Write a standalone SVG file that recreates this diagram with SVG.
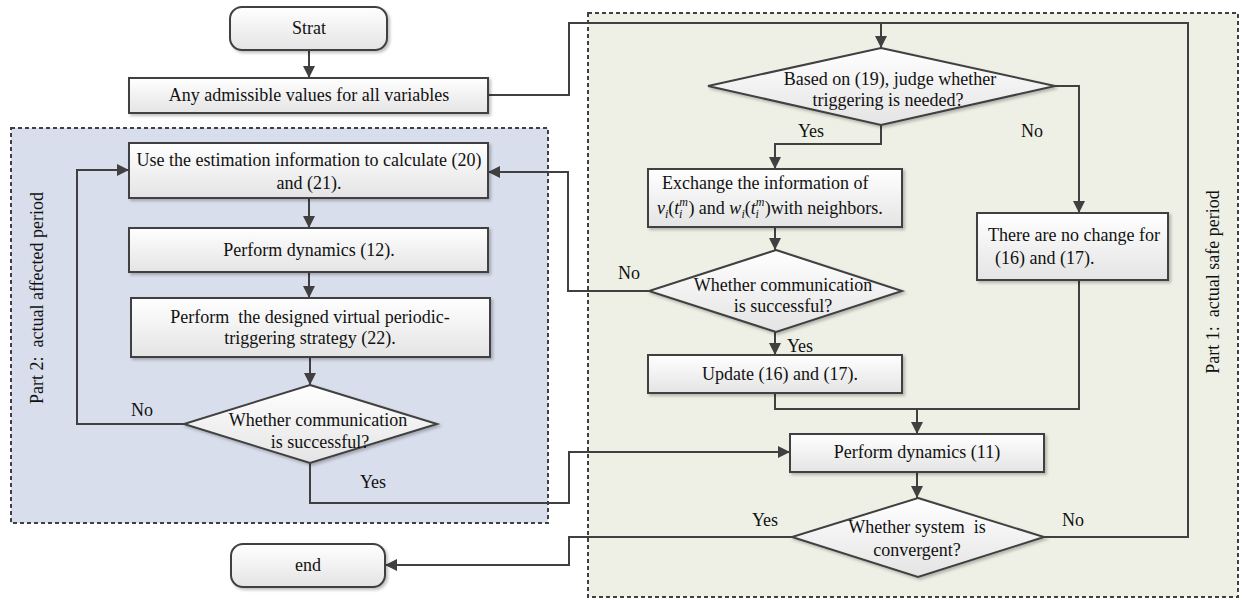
<svg xmlns="http://www.w3.org/2000/svg" width="1242" height="600" viewBox="0 0 1242 600">
<defs>
<linearGradient id="gBox" x1="0" y1="0" x2="0" y2="1">
<stop offset="0" stop-color="#ffffff"/>
<stop offset="1" stop-color="#e4e4e4"/>
</linearGradient>
<filter id="sh" x="-10%" y="-10%" width="130%" height="140%">
<feDropShadow dx="2" dy="2" stdDeviation="1.5" flood-color="#000" flood-opacity="0.25"/>
</filter>
<marker id="arr" viewBox="0 0 10 10" refX="10" refY="5" markerWidth="12" markerHeight="12" markerUnits="userSpaceOnUse" orient="auto">
<path d="M0,0 L10,5 L0,10 z" fill="#404040"/>
</marker>
</defs>
<style>
.box{fill:url(#gBox);stroke:#404040;stroke-width:2;filter:url(#sh)}
.dia{fill:url(#gBox);stroke:#404040;stroke-width:2;filter:url(#sh)}
.t{font-family:"Liberation Serif","Times New Roman",serif;font-size:18px;fill:#111}
.c{text-anchor:middle}
.s{font-size:12px;font-style:italic}
.i{font-style:italic}
.con{fill:none;stroke:#404040;stroke-width:2}
.arr{marker-end:url(#arr)}
.panel{stroke:#404040;stroke-width:2;stroke-dasharray:4 3}
</style>

<g id="panel-part2">
<rect class="panel" x="11" y="128" width="537" height="395" fill="#d9deec"/>
<text class="t c" transform="translate(43,298) rotate(-90)" xml:space="preserve">Part 2:  actual affected period</text>
</g>
<g id="panel-part1">
<rect class="panel" x="588" y="13" width="650" height="584" fill="#eef0e6"/>
<text class="t c" transform="translate(1219,282) rotate(-90)" xml:space="preserve">Part 1:  actual safe period</text>
</g>

<g id="connectors">
<path class="con arr" d="M309,50 V78"/>
<path class="con arr" d="M488,95 H569 V23 H881 V48"/>
<path class="con" d="M1044,537 H1188 V23 H881"/>
<path class="con arr" d="M881,125 V144 H775 V169"/>
<path class="con arr" d="M1055,86 H1079 V213"/>
<path class="con arr" d="M775,227 V250"/>
<path class="con arr" d="M649,291 H568 V172 H488"/>
<path class="con arr" d="M775,332 V355"/>
<path class="con" d="M775,393 V409 H1079 V280"/>
<path class="con arr" d="M917,409 V434"/>
<path class="con arr" d="M917,472 V498"/>
<path class="con arr" d="M792,537 H569 V565 H385"/>
<path class="con arr" d="M309,198 V228"/>
<path class="con arr" d="M309,272 V298"/>
<path class="con arr" d="M310,357 V385"/>
<path class="con arr" d="M184,424 H77 V170 H129"/>
<path class="con arr" d="M310,463 V503 H569 V452 H790"/>
<text class="t c" x="811" y="137">Yes</text>
<text class="t c" x="1032" y="137">No</text>
<text class="t c" x="629" y="279">No</text>
<text class="t c" x="800" y="352">Yes</text>
<text class="t c" x="142" y="416">No</text>
<text class="t c" x="373" y="488">Yes</text>
<text class="t c" x="765" y="526">Yes</text>
<text class="t c" x="1073" y="526">No</text>
</g>

<g id="start">
<rect class="box" x="230" y="7" width="157" height="43" rx="12"/>
<text class="t c" x="309" y="34">Strat</text>
</g>
<g id="init">
<rect class="box" x="129" y="78" width="359" height="35"/>
<text class="t c" x="309" y="101">Any admissible values for all variables</text>
</g>
<g id="calc">
<rect class="box" x="129" y="143" width="359" height="55"/>
<text class="t c" x="309" y="166">Use the estimation information to calculate (20)</text>
<text class="t c" x="309" y="189">and (21).</text>
</g>
<g id="dyn12">
<rect class="box" x="129" y="228" width="359" height="44"/>
<text class="t c" x="309" y="256">Perform dynamics (12).</text>
</g>
<g id="vpt">
<rect class="box" x="131" y="298" width="359" height="59"/>
<text class="t c" x="310" y="323" xml:space="preserve">Perform  the designed virtual periodic-</text>
<text class="t c" x="310" y="344">triggering strategy (22).</text>
</g>
<g id="comm2">
<path class="dia" d="M310,385 L437,424 L310,463 L184,424 Z"/>
<text class="t c" x="318" y="426">Whether communication</text>
<text class="t c" x="320" y="448">is successful?</text>
</g>
<g id="end">
<rect class="box" x="231" y="544" width="154" height="43" rx="12"/>
<text class="t c" x="308" y="571">end</text>
</g>
<g id="judge">
<path class="dia" d="M881,48 L1055,86 L881,125 L708,86 Z"/>
<text class="t c" x="890" y="85">Based on (19), judge whether</text>
<text class="t c" x="888" y="106">triggering is needed?</text>
</g>
<g id="exch">
<rect class="box" x="648" y="169" width="254" height="58"/>
<text class="t" x="662" y="189">Exchange the information of</text>
<text class="t" x="657" y="214"><tspan class="i">v</tspan><tspan class="s" dy="4">i</tspan><tspan dy="-4">(</tspan><tspan class="i">t</tspan><tspan class="s" dy="-8">m</tspan><tspan class="s" dx="-9" dy="12">i</tspan><tspan dx="6" dy="-4">) and </tspan><tspan class="i">w</tspan><tspan class="s" dy="4">i</tspan><tspan dy="-4">(</tspan><tspan class="i">t</tspan><tspan class="s" dy="-8">m</tspan><tspan class="s" dx="-9" dy="12">i</tspan><tspan dx="6" dy="-4">)with neighbors.</tspan></text>
</g>
<g id="comm1">
<path class="dia" d="M776,250 L902,291 L776,332 L649,291 Z"/>
<text class="t c" x="783" y="291">Whether communication</text>
<text class="t c" x="783" y="312">is successful?</text>
</g>
<g id="update">
<rect class="box" x="648" y="355" width="254" height="38"/>
<text class="t c" x="780" y="380">Update (16) and (17).</text>
</g>
<g id="nochange">
<rect class="box" x="977" y="213" width="191" height="67"/>
<text class="t" x="988" y="241">There are no change for</text>
<text class="t" x="995" y="264">(16) and (17).</text>
</g>
<g id="dyn11">
<rect class="box" x="790" y="434" width="254" height="38"/>
<text class="t c" x="917" y="458">Perform dynamics (11)</text>
</g>
<g id="conv">
<path class="dia" d="M918,498 L1044,537 L918,577 L792,537 Z"/>
<text class="t c" x="917" y="533" xml:space="preserve">Whether system  is</text>
<text class="t c" x="917" y="556">convergent?</text>
</g>
</svg>
